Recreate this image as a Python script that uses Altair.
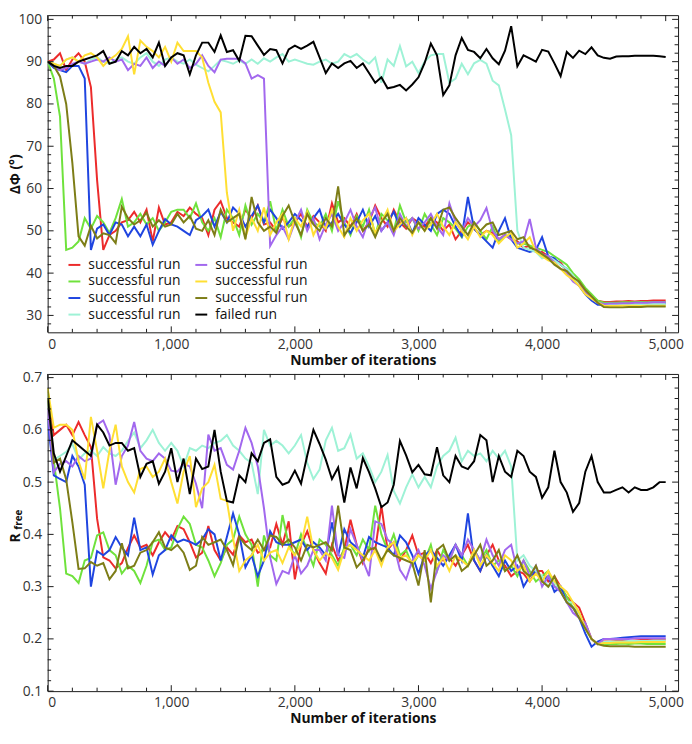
import altair as alt
import pandas as pd

# ---------------- data (one value every 50 iterations, 0..5000) ----------------
iterations = list(range(0, 5001, 50))

run_keys = ["r1", "r2", "r3", "r4", "r5", "r6", "r7", "failed"]
run_colors = ["#ec2b2b", "#6fe23c", "#1f45e0", "#9ef2d6", "#a268ee", "#ffdf33", "#7d7d17", "#000000"]

# Delta Phi (degrees)
phi_r1 = [90, 90.5, 92, 88, 90.5, 92, 90, 84, 62, 45.5,
          49, 50, 52, 52.5, 54.5, 52, 55, 47.5, 55.5, 51.5,
          52, 54.5, 53.5, 55.5, 54, 53, 49, 55, 57, 53,
          52, 51, 55, 53, 56, 51.5, 52, 50, 53, 51,
          52, 54, 51, 53.5, 52, 50, 56.5, 52, 53, 51,
          54, 50, 52, 56, 53, 51, 55, 52, 50.5, 53,
          52, 51, 53, 52, 50, 51.5, 48, 50, 52, 50.5,
          49, 50, 49.5, 48, 49, 48, 47.5, 46, 46.5, 45,
          45, 44, 43, 42.5, 40.5, 39, 37.5, 36, 34.5, 33.5,
          33.2, 33.2, 33.3, 33.3, 33.4, 33.3, 33.4, 33.4, 33.5, 33.5,
          33.5]
phi_r2 = [90, 86, 77, 45.5, 46, 47.5, 53, 50.5, 53.5, 52,
          49.5, 53, 57.5, 51, 52, 54, 51.5, 53, 50, 52,
          54.5, 55, 55, 53, 56.5, 52, 50, 53, 48.5, 55,
          53, 49, 56, 51.5, 54, 52, 57, 50, 55, 51,
          53, 48.5, 55, 52, 51, 54, 50, 57, 52, 49,
          53.5, 51, 55, 49, 54, 52.5, 50, 56, 52, 53,
          50, 54, 51.5, 49, 53, 52, 50.5, 48.5, 51, 52,
          50, 48, 51, 47.5, 49, 48.5, 47, 47, 46.5, 46,
          45.5, 45, 44, 43, 42, 40, 38.5, 36.5, 35, 33.5,
          33, 33, 33, 33.1, 33.1, 33.1, 33.2, 33.1, 33.2, 33.2,
          33.2]
phi_r3 = [90, 88.5, 88, 87.5, 89, 89, 86, 45.5, 50.5, 51.5,
          49, 52, 51.5, 48.7, 51, 48.7, 51.5, 46.7, 50, 52.8,
          51.5, 51, 50, 49, 52.5, 53.5, 55, 51, 54.5, 52,
          55.5, 54, 51, 53.5, 56, 52, 55, 53, 50.5, 52,
          54, 52.5, 51, 53, 55, 50.5, 52, 54, 51.5, 49.5,
          52, 55, 51, 53.5, 50, 52, 54.5, 51, 53, 49.5,
          53, 51.5, 50, 54, 55, 54, 51, 48.7, 58, 50.5,
          49, 47.5, 46, 50, 53, 48, 46, 45.5, 45, 45.5,
          48.5, 44, 43.5, 42, 41, 39, 37, 35, 33.5, 32.5,
          32.5, 32.6, 32.6, 32.7, 32.7, 32.7, 32.8, 32.8, 32.8, 32.8,
          32.8]
phi_r4 = [90, 89.5, 89, 90.5, 91, 90, 89.5, 90.5, 91, 90,
          89.5, 90.5, 91, 90, 89.5, 91, 92, 90, 89, 90.5,
          91, 90, 89.5, 90.5, 89.3, 88.5, 87.7, 89, 90.4, 90,
          89.5, 90.3, 89.5, 90.5, 89.5, 90.8, 90, 91, 91.8, 90,
          90.5, 90, 89.5, 89.3, 90, 90.5, 89.5, 90, 91.8, 91,
          91.8, 90.5, 89.5, 91, 85, 90.5, 89, 93.7, 88.9, 90,
          87.3, 90, 91.5, 91.8, 91.8, 85, 86, 89.5, 87, 89.6,
          90.4, 89.5, 85.5, 84.4, 78.7, 72.6, 50, 46, 45.5, 45,
          43.5, 44, 43, 42, 41, 39.5, 37, 35.5, 34, 33,
          32.5, 32.5, 32.6, 32.6, 32.6, 32.7, 32.7, 32.7, 32.7, 32.7,
          32.7]
phi_r5 = [90, 89, 88, 88.5, 89.5, 90, 89.5, 90, 90.5, 90,
          91, 90, 90.5, 88, 89.5, 89, 91, 88.5, 90, 89,
          91, 89.5, 90.5, 88.5, 89.5, 91.5, 89, 87.5, 90.5, 90.7,
          90.7, 90.7, 89.6, 86, 86.8, 86, 46.4, 49, 51, 48,
          52, 55, 50, 53, 48, 51.5, 54, 50, 52, 55,
          51, 48.5, 53, 55.5, 50, 52, 49, 54, 51, 53,
          50.5, 52, 54, 51, 49, 56.5, 52, 50, 53, 51,
          52.5, 55.4, 50, 48, 49, 48, 47, 47.5, 52.8, 46,
          44.5, 44, 42.5, 41, 40, 38, 37, 35.5, 34, 33,
          32.7, 32.8, 32.8, 32.9, 32.9, 33, 33, 33, 33.1, 33.1,
          33.1]
phi_r6 = [90, 89.5, 89, 90.5, 91, 90, 91.5, 92, 91, 89,
          90.5, 91.5, 93, 96, 87, 95, 93.5, 92.5, 91, 93.5,
          90, 94.5, 92.5, 92.5, 92.5, 91, 85, 80.5, 78, 59,
          50, 55, 48.5, 53, 50, 55.5, 49, 52, 54, 48,
          53, 51, 54.5, 49, 52, 50.5, 55, 51, 48.5, 53,
          50, 52.5, 54, 49.5, 52, 55, 50, 51.5, 53, 49,
          52, 50, 51.5, 54, 51, 49, 52, 50, 48, 51,
          48.5, 50, 49, 47, 48.5, 49.5, 46, 47, 48.5, 45,
          44, 43, 42.5, 41, 39.5, 38.5, 37, 35, 34, 33,
          32.3, 32.2, 32.2, 32.3, 32.3, 32.3, 32.2, 32.3, 32.3, 32.3,
          32.3]
phi_r7 = [90, 89, 86.5, 80, 66, 48.7, 46.5, 51.2, 48.2, 49.4,
          49, 47.1, 55.7, 53, 51.5, 52.5, 54.3, 51, 52.5, 51,
          51.5, 54, 52, 53.5, 50.5, 50, 52.5, 49, 55, 52,
          53, 54, 48, 58, 52, 50, 51, 49.5, 53.5, 56,
          52, 49, 54, 51.5, 50, 53, 51, 60.5, 49, 51,
          53, 50, 51.5, 48.5, 52, 54, 50, 53, 51, 49.5,
          52, 50, 53, 50.5, 55, 55.5, 53, 51, 49, 52,
          50, 51.5, 52, 49, 49.5, 50, 48, 48.5, 46, 45.5,
          44.5, 43.5, 42, 41, 40.5, 39, 38, 36, 34.5, 33,
          32, 31.9, 31.9, 31.9, 32, 32, 32, 32.1, 32.1, 32.1,
          32.1]
phi_failed = [90, 89, 88.5, 89, 89, 90, 90.5, 91, 91.5, 92.5,
              89.5, 90, 92.5, 91.5, 93.5, 92, 93, 91, 94.5, 89,
              91, 92, 91.5, 87, 91.5, 94.5, 94.5, 92.3, 96.2, 92.3,
              92.7, 90.2, 96.1, 96, 93.8, 91.6, 93, 92.7, 89.6, 92.9,
              93.8, 93, 93.8, 94.7, 91, 87.3, 89.6, 88.5, 89.6, 90.2,
              88.5, 89.6, 87.3, 85, 86.3, 83.7, 84, 84.5, 83.2, 84.6,
              86.3, 89.7, 94.3, 91.5, 82.1, 84.4, 91.5, 95.6, 92.8, 92.3,
              90.8, 93, 90.8, 89.4, 92.6, 98.4, 88.9, 91.5, 90.8, 90,
              92.8, 92.4, 89.6, 86.6, 92.3, 90.9, 92.6, 91.8, 93.4, 91.5,
              90.9, 90.7, 91.2, 91.3, 91.3, 91.4, 91.4, 91.4, 91.4, 91.3,
              91.1]

# R free
rfree_r1 = [0.66, 0.59, 0.60, 0.61, 0.59, 0.615, 0.59, 0.567, 0.43, 0.356,
            0.35, 0.335, 0.345, 0.374, 0.398, 0.375, 0.38, 0.36, 0.385, 0.404,
            0.39, 0.416, 0.41, 0.385, 0.356, 0.365, 0.416, 0.37, 0.35, 0.375,
            0.361, 0.398, 0.385, 0.39, 0.365, 0.37, 0.375, 0.42, 0.38, 0.425,
            0.314, 0.38, 0.406, 0.37, 0.345, 0.325, 0.38, 0.35, 0.37, 0.428,
            0.38, 0.345, 0.375, 0.37, 0.455, 0.37, 0.385, 0.35, 0.37, 0.398,
            0.36, 0.365, 0.345, 0.37, 0.35, 0.355, 0.34, 0.36, 0.38, 0.35,
            0.33, 0.36, 0.38, 0.35, 0.34, 0.32, 0.33, 0.325, 0.31, 0.33,
            0.33, 0.31, 0.32, 0.30, 0.28, 0.27, 0.26, 0.23, 0.20, 0.19,
            0.195, 0.195, 0.196, 0.197, 0.196, 0.197, 0.198, 0.198, 0.198, 0.199,
            0.199]
rfree_r2 = [0.66, 0.54, 0.45, 0.325, 0.32, 0.307, 0.35, 0.355, 0.398, 0.404,
            0.37, 0.36, 0.325, 0.34, 0.33, 0.307, 0.34, 0.386, 0.39, 0.37,
            0.375, 0.41, 0.434, 0.42, 0.38, 0.375, 0.35, 0.32, 0.345, 0.38,
            0.39, 0.434, 0.40, 0.38, 0.30, 0.398, 0.36, 0.35, 0.437, 0.38,
            0.36, 0.40, 0.37, 0.34, 0.39, 0.38, 0.36, 0.34, 0.375, 0.38,
            0.36, 0.39, 0.37, 0.455, 0.40, 0.37, 0.40, 0.36, 0.37, 0.34,
            0.36, 0.35, 0.38, 0.33, 0.37, 0.35, 0.38, 0.36, 0.34, 0.37,
            0.35, 0.37, 0.34, 0.35, 0.33, 0.34, 0.32, 0.35, 0.33, 0.31,
            0.32, 0.33, 0.30, 0.30, 0.28, 0.26, 0.25, 0.22, 0.20, 0.19,
            0.19, 0.19, 0.19, 0.191, 0.19, 0.191, 0.191, 0.19, 0.19, 0.19,
            0.19]
rfree_r3 = [0.62, 0.513, 0.506, 0.50, 0.55, 0.53, 0.495, 0.30, 0.368, 0.36,
            0.37, 0.395, 0.375, 0.36, 0.432, 0.37, 0.375, 0.323, 0.36, 0.37,
            0.398, 0.385, 0.39, 0.386, 0.38, 0.39, 0.41, 0.40, 0.35, 0.395,
            0.44, 0.40, 0.337, 0.36, 0.32, 0.35, 0.406, 0.385, 0.38, 0.38,
            0.385, 0.39, 0.37, 0.385, 0.375, 0.36, 0.423, 0.36, 0.41, 0.385,
            0.375, 0.355, 0.395, 0.385, 0.38, 0.375, 0.36, 0.398, 0.385, 0.36,
            0.325, 0.36, 0.37, 0.355, 0.34, 0.36, 0.38, 0.35, 0.44, 0.35,
            0.33, 0.36, 0.34, 0.32, 0.35, 0.33, 0.34, 0.30, 0.32, 0.33,
            0.31, 0.32, 0.29, 0.30, 0.27, 0.26, 0.24, 0.21, 0.185, 0.195,
            0.20, 0.20, 0.201, 0.202, 0.203, 0.204, 0.205, 0.205, 0.205, 0.205,
            0.205]
rfree_r4 = [0.67, 0.543, 0.55, 0.558, 0.573, 0.543, 0.555, 0.56, 0.55, 0.567,
            0.555, 0.55, 0.56, 0.579, 0.595, 0.565, 0.58, 0.60, 0.575, 0.56,
            0.575, 0.56, 0.53, 0.565, 0.56, 0.57, 0.565, 0.575, 0.579, 0.59,
            0.57, 0.56, 0.545, 0.537, 0.477, 0.60, 0.57, 0.579, 0.57, 0.555,
            0.57, 0.59, 0.537, 0.506, 0.524, 0.58, 0.604, 0.56, 0.565, 0.591,
            0.545, 0.555, 0.53, 0.50, 0.52, 0.552, 0.483, 0.459, 0.49, 0.515,
            0.49, 0.51, 0.49, 0.53, 0.55, 0.56, 0.585, 0.54, 0.56, 0.55,
            0.555, 0.54, 0.56, 0.545, 0.56, 0.53, 0.35, 0.36, 0.34, 0.33,
            0.32, 0.30, 0.31, 0.29, 0.27, 0.27, 0.25, 0.22, 0.20, 0.19,
            0.194, 0.195, 0.195, 0.195, 0.196, 0.196, 0.196, 0.196, 0.197, 0.197,
            0.197]
rfree_r5 = [0.64, 0.519, 0.535, 0.54, 0.53, 0.55, 0.54, 0.545, 0.61, 0.618,
            0.59, 0.495, 0.55, 0.57, 0.615, 0.56, 0.545, 0.54, 0.555, 0.545,
            0.522, 0.52, 0.535, 0.53, 0.497, 0.45, 0.591, 0.56, 0.565, 0.533,
            0.524, 0.56, 0.604, 0.575, 0.53, 0.45, 0.356, 0.305, 0.33, 0.325,
            0.36, 0.325, 0.34, 0.37, 0.37, 0.35, 0.455, 0.36, 0.355, 0.41,
            0.38, 0.35, 0.32, 0.425, 0.42, 0.39, 0.38, 0.332, 0.314, 0.35,
            0.37, 0.34, 0.296, 0.33, 0.36, 0.35, 0.38, 0.36, 0.39, 0.37,
            0.35, 0.39, 0.36, 0.34, 0.37, 0.38, 0.33, 0.35, 0.32, 0.34,
            0.30, 0.32, 0.30, 0.29, 0.27, 0.25, 0.24, 0.23, 0.20, 0.19,
            0.20, 0.20, 0.20, 0.20, 0.20, 0.201, 0.201, 0.201, 0.201, 0.201,
            0.201]
rfree_r6 = [0.68, 0.604, 0.61, 0.61, 0.60, 0.54, 0.505, 0.625, 0.56, 0.488,
            0.56, 0.61, 0.53, 0.50, 0.48, 0.525, 0.53, 0.51, 0.52, 0.545,
            0.50, 0.459, 0.52, 0.55, 0.452, 0.488, 0.50, 0.533, 0.468, 0.464,
            0.392, 0.33, 0.35, 0.36, 0.38, 0.35, 0.365, 0.37, 0.345, 0.375,
            0.36, 0.38, 0.434, 0.37, 0.35, 0.365, 0.355, 0.332, 0.37, 0.38,
            0.37, 0.36, 0.35, 0.37, 0.34, 0.375, 0.385, 0.355, 0.36, 0.345,
            0.36, 0.35, 0.37, 0.34, 0.355, 0.33, 0.36, 0.35, 0.34, 0.37,
            0.34, 0.36, 0.345, 0.33, 0.36, 0.35, 0.33, 0.34, 0.31, 0.325,
            0.31, 0.33, 0.31, 0.30, 0.29, 0.27, 0.25, 0.22, 0.20, 0.19,
            0.192, 0.192, 0.193, 0.193, 0.193, 0.193, 0.194, 0.194, 0.194, 0.194,
            0.194]
rfree_r7 = [0.68, 0.537, 0.545, 0.505, 0.423, 0.334, 0.335, 0.347, 0.34, 0.345,
            0.314, 0.33, 0.383, 0.335, 0.34, 0.365, 0.37, 0.385, 0.404, 0.375,
            0.37, 0.38, 0.365, 0.332, 0.34, 0.395, 0.38, 0.385, 0.39, 0.37,
            0.341, 0.395, 0.38, 0.37, 0.39, 0.37, 0.398, 0.395, 0.38, 0.39,
            0.375, 0.35, 0.38, 0.375, 0.38, 0.385, 0.37, 0.455, 0.375, 0.37,
            0.337, 0.35, 0.37, 0.375, 0.35, 0.37, 0.36, 0.355, 0.35, 0.345,
            0.302, 0.37, 0.27, 0.37, 0.38, 0.35, 0.36, 0.33, 0.34, 0.36,
            0.38, 0.34, 0.35, 0.37, 0.33, 0.34, 0.36, 0.33, 0.32, 0.34,
            0.31, 0.30, 0.32, 0.29, 0.27, 0.26, 0.24, 0.22, 0.20, 0.19,
            0.187, 0.186, 0.186, 0.186, 0.186, 0.185, 0.185, 0.185, 0.185, 0.185,
            0.185]
rfree_failed = [0.66, 0.555, 0.52, 0.55, 0.58, 0.57, 0.56, 0.55, 0.61, 0.595,
                0.57, 0.575, 0.575, 0.56, 0.565, 0.51, 0.535, 0.54, 0.497, 0.52,
                0.565, 0.50, 0.545, 0.477, 0.545, 0.525, 0.53, 0.60, 0.52, 0.464,
                0.461, 0.513, 0.50, 0.555, 0.54, 0.575, 0.582, 0.51, 0.495, 0.50,
                0.522, 0.497, 0.551, 0.60, 0.573, 0.543, 0.506, 0.528, 0.461, 0.528,
                0.488, 0.546, 0.519, 0.488, 0.452, 0.461, 0.495, 0.579, 0.551, 0.519,
                0.533, 0.515, 0.513, 0.567, 0.513, 0.50, 0.55, 0.53, 0.525, 0.54,
                0.59, 0.58, 0.50, 0.55, 0.52, 0.51, 0.56, 0.55, 0.52, 0.51,
                0.47, 0.49, 0.56, 0.50, 0.48, 0.443, 0.46, 0.52, 0.55, 0.50,
                0.48, 0.48, 0.485, 0.49, 0.48, 0.49, 0.485, 0.485, 0.49, 0.50,
                0.50]

phi_series = [phi_r1, phi_r2, phi_r3, phi_r4, phi_r5, phi_r6, phi_r7, phi_failed]
rfree_series = [rfree_r1, rfree_r2, rfree_r3, rfree_r4, rfree_r5, rfree_r6, rfree_r7, rfree_failed]

x_major = [0, 1000, 2000, 3000, 4000, 5000]
x_minor = [v for v in range(200, 5001, 200) if v % 1000 != 0]
phi_major = [30, 40, 50, 60, 70, 80, 90, 100]
phi_minor = [v for v in range(28, 101, 2) if v % 10 != 0]
rfree_major = [0.1, 0.2, 0.3, 0.4, 0.5, 0.6, 0.7]
rfree_minor = [round(0.1 + 0.02 * k, 2) for k in range(1, 31) if k % 5 != 0]


def long_frame(series):
    rows = []
    for key, vals in zip(run_keys, series):
        for it, v in zip(iterations, vals):
            rows.append({"it": it, "v": v, "run": key})
    return pd.DataFrame(rows)


phi_df = long_frame(phi_series)
rfree_df = long_frame(rfree_series)

W = 636
H = 320
X_DOMAIN = [0, 5100]
TICK_COLOR = "#1a1a1a"
MAJOR = 6
MINOR = 3.5


def tick_frame(vals, field, size):
    return pd.DataFrame({field: vals, "len": [size] * len(vals)})


def panel(df, ydomain, ymajor, yminor, yfmt, ytitle, title_y, extra=None):
    xs = alt.Scale(domain=X_DOMAIN, nice=False, zero=False)
    ys = alt.Scale(domain=ydomain, nice=False, zero=False)
    x_axis = alt.Axis(orient="bottom", values=x_major, format=",d", ticks=False, tickSize=0,
                      labelPadding=5, domain=False, grid=False, titlePadding=2)
    y_axis = alt.Axis(orient="left", values=ymajor, format=yfmt, ticks=False, tickSize=0,
                      labelPadding=6, domain=False, grid=False,
                      titleX=-32, titleY=title_y,
                      titleAngle=270, titleAlign="center", titleBaseline="middle")

    lines = alt.Chart(df).mark_line(strokeWidth=2, clip=True).encode(
        x=alt.X("it:Q", scale=xs, axis=x_axis, title="Number of iterations"),
        y=alt.Y("v:Q", scale=ys, axis=y_axis, title=ytitle),
        color=alt.Color("run:N", scale=alt.Scale(domain=run_keys, range=run_colors),
                        legend=alt.Legend(orient="none", legendX=20, legendY=H - 75, columns=2,
                                          title=None, symbolType="stroke", symbolSize=144,
                                          symbolStrokeWidth=2, labelFontSize=14, labelOffset=7,
                                          columnPadding=10, rowPadding=2.7, padding=0,
                                          labelColor="#111111",
                                          labelExpr="datum.label == 'failed' ? 'failed run' : 'successful run'")),
        order=alt.Order("it:Q"),
    )
    # inward tick marks on all four sides of the frame, drawn as two-point line segments
    xt = pd.concat([tick_frame(x_major, "it", MAJOR), tick_frame(x_minor, "it", MINOR)])
    yt = pd.concat([tick_frame(ymajor, "v", MAJOR), tick_frame(yminor, "v", MINOR)])

    def x_edge(base_px, sign):
        return alt.Chart(xt).transform_calculate(
            p0="%f" % base_px, p1="%f + %d * datum.len" % (base_px, sign)
        ).transform_fold(["p0", "p1"], as_=["end", "px"]).mark_line(
            color=TICK_COLOR, strokeWidth=1
        ).encode(
            x=alt.X("it:Q", scale=xs, axis=None),
            y=alt.Y("px:Q", scale=None, axis=None),
            detail="it:Q",
        )

    def y_edge(base_px, sign):
        return alt.Chart(yt).transform_calculate(
            p0="%f" % base_px, p1="%f + %d * datum.len" % (base_px, sign)
        ).transform_fold(["p0", "p1"], as_=["end", "px"]).mark_line(
            color=TICK_COLOR, strokeWidth=1
        ).encode(
            y=alt.Y("v:Q", scale=ys, axis=None),
            x=alt.X("px:Q", scale=None, axis=None),
            detail="v:Q",
            order="end:N",
        )

    layers = [lines, x_edge(H, -1), x_edge(0, 1), y_edge(0, 1), y_edge(W, -1)]
    if extra is not None:
        layers.append(extra)
    return alt.layer(*layers).resolve_axis(x="independent", y="independent").properties(width=W, height=H)


top = panel(phi_df, [26, 101], phi_major, phi_minor, "d", "ΔΦ (°)", H / 2)

sub_df = pd.DataFrame({"t": ["free"]})
sub_text = alt.Chart(sub_df).mark_text(angle=270, fontSize=10, fontWeight="bold", align="center",
                                        baseline="middle", color="#111111", font="Open Sans").encode(
    text="t:N", x=alt.value(-28.5), y=alt.value(147))
bottom = panel(rfree_df, [0.1, 0.707], rfree_major, rfree_minor, ".1f", "R", 165, extra=sub_text)

chart = alt.vconcat(top, bottom, spacing=2).properties(
    padding={"left": 0, "right": 0, "top": 0, "bottom": 0}
).resolve_scale(
    x="independent", y="independent"
).configure_view(
    stroke="#1a1a1a", strokeWidth=1
).configure_axis(
    labelFont="Open Sans", labelFontSize=14, labelColor="#333333",
    titleFont="Open Sans", titleFontSize=14, titleFontWeight="bold", titleColor="#111111"
).configure_legend(
    labelFont="Open Sans"
)

chart.save("out.html", embed_options={"renderer": "svg", "actions": False})
